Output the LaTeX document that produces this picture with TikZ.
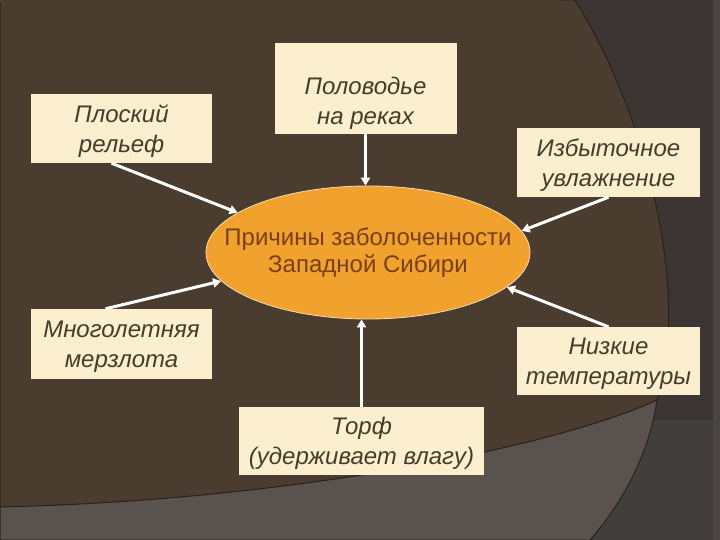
\documentclass[tikz,border=0pt]{standalone}
\usepackage{fontspec}
\setmainfont{Liberation Sans}
\usetikzlibrary{arrows.meta,shapes.geometric}
\definecolor{bgbrown}{HTML}{4B3C30}
\definecolor{greyTR}{HTML}{3D3533}
\definecolor{greyLL}{HTML}{5A524E}
\definecolor{greyLR}{HTML}{423E3C}
\definecolor{greyStrip}{HTML}{4A4542}
\definecolor{edgeline}{HTML}{2A211C}
\definecolor{boxfill}{HTML}{FCEFD0}
\definecolor{boxtext}{HTML}{4A3A2A}
\definecolor{ellfill}{HTML}{F0A12E}
\definecolor{elltext}{HTML}{7A3F14}
\definecolor{ellborder}{HTML}{F8DDA8}
\begin{document}
\begin{tikzpicture}[x=1pt,y=-1pt,
  box/.style={fill=boxfill, draw=none, inner sep=0pt},
  boxlabel/.style={align=center, inner sep=0pt,
    font=\fontsize{24}{30}\selectfont\itshape, text=boxtext},
  arr/.style={draw=white, line width=3pt, -{Triangle[length=8pt,width=9pt]}},
  region/.style={draw=edgeline, line width=1pt}]
\useasboundingbox (0,0) rectangle (720,540);
% background
\fill[greyLR] (0,0) rectangle (720,540);
\fill[greyTR] (560,0) rectangle (720,420);
\fill[greyStrip] (713,0) rectangle (720,540);
\path[region, fill=greyLL] (0,470) -- (0,540) -- (590,540)
  .. controls (625,500) and (650,450) .. (657,400) -- (600,380) -- (0,440) -- cycle;
\path[region, fill=bgbrown] (0,0) -- (575,0)
  .. controls (650,120) and (690,300) .. (657,400)
  .. controls (560,445) and (300,500) .. (0,507) -- cycle;
\fill[bgbrown] (0,0) rectangle (560,3);
% nodes
\node[ellipse, fill=ellfill, draw=ellborder, line width=0.8pt, inner sep=0pt,
  minimum width=324pt, minimum height=133pt] (ell) at (368,252.5) {};
\node[align=center, inner sep=0pt, font=\fontsize{24}{27}\selectfont, text=elltext]
  (elltxt) at (ell.center) {Причины заболоченности\\Западной Сибири};
\node[box, minimum width=181pt, minimum height=69pt,
  label={[boxlabel, yshift=-3pt]center:Плоский\\рельеф}] (plo) at (121.5,128.5) {};
\node[box, minimum width=182pt, minimum height=91pt,
  label={[boxlabel, yshift=-15pt]center:Половодье\\на реках}] (pol) at (365.5,88.5) {};
\node[box, minimum width=183pt, minimum height=69pt,
  label={[boxlabel, yshift=-3pt]center:Избыточное\\увлажнение}] (izb) at (608.5,162.5) {};
\node[box, minimum width=181pt, minimum height=70pt,
  label={[boxlabel, yshift=-3pt]center:Многолетняя\\мерзлота}] (mno) at (121.5,344) {};
\node[box, minimum width=183pt, minimum height=68pt,
  label={[boxlabel, yshift=-3pt]center:Низкие\\температуры}] (niz) at (608.5,361) {};
\node[box, minimum width=245pt, minimum height=68pt,
  label={[boxlabel, yshift=-2pt]center:Торф\\(удерживает влагу)}] (tor) at (361.5,441) {};
% arrows
\draw[arr] ([xshift=-10pt]plo.south) -- (ell.163);
\draw[arr] (pol.south) -- (pol.south |- ell.north);
\draw[arr] (izb.south) -- (ell.8);
\draw[arr] ([xshift=-16pt]mno.north) -- (ell.191);
\draw[arr] (niz.north) -- (ell.346);
\draw[arr] (tor.north) -- (tor.north |- ell.south);
\end{tikzpicture}
\end{document}
